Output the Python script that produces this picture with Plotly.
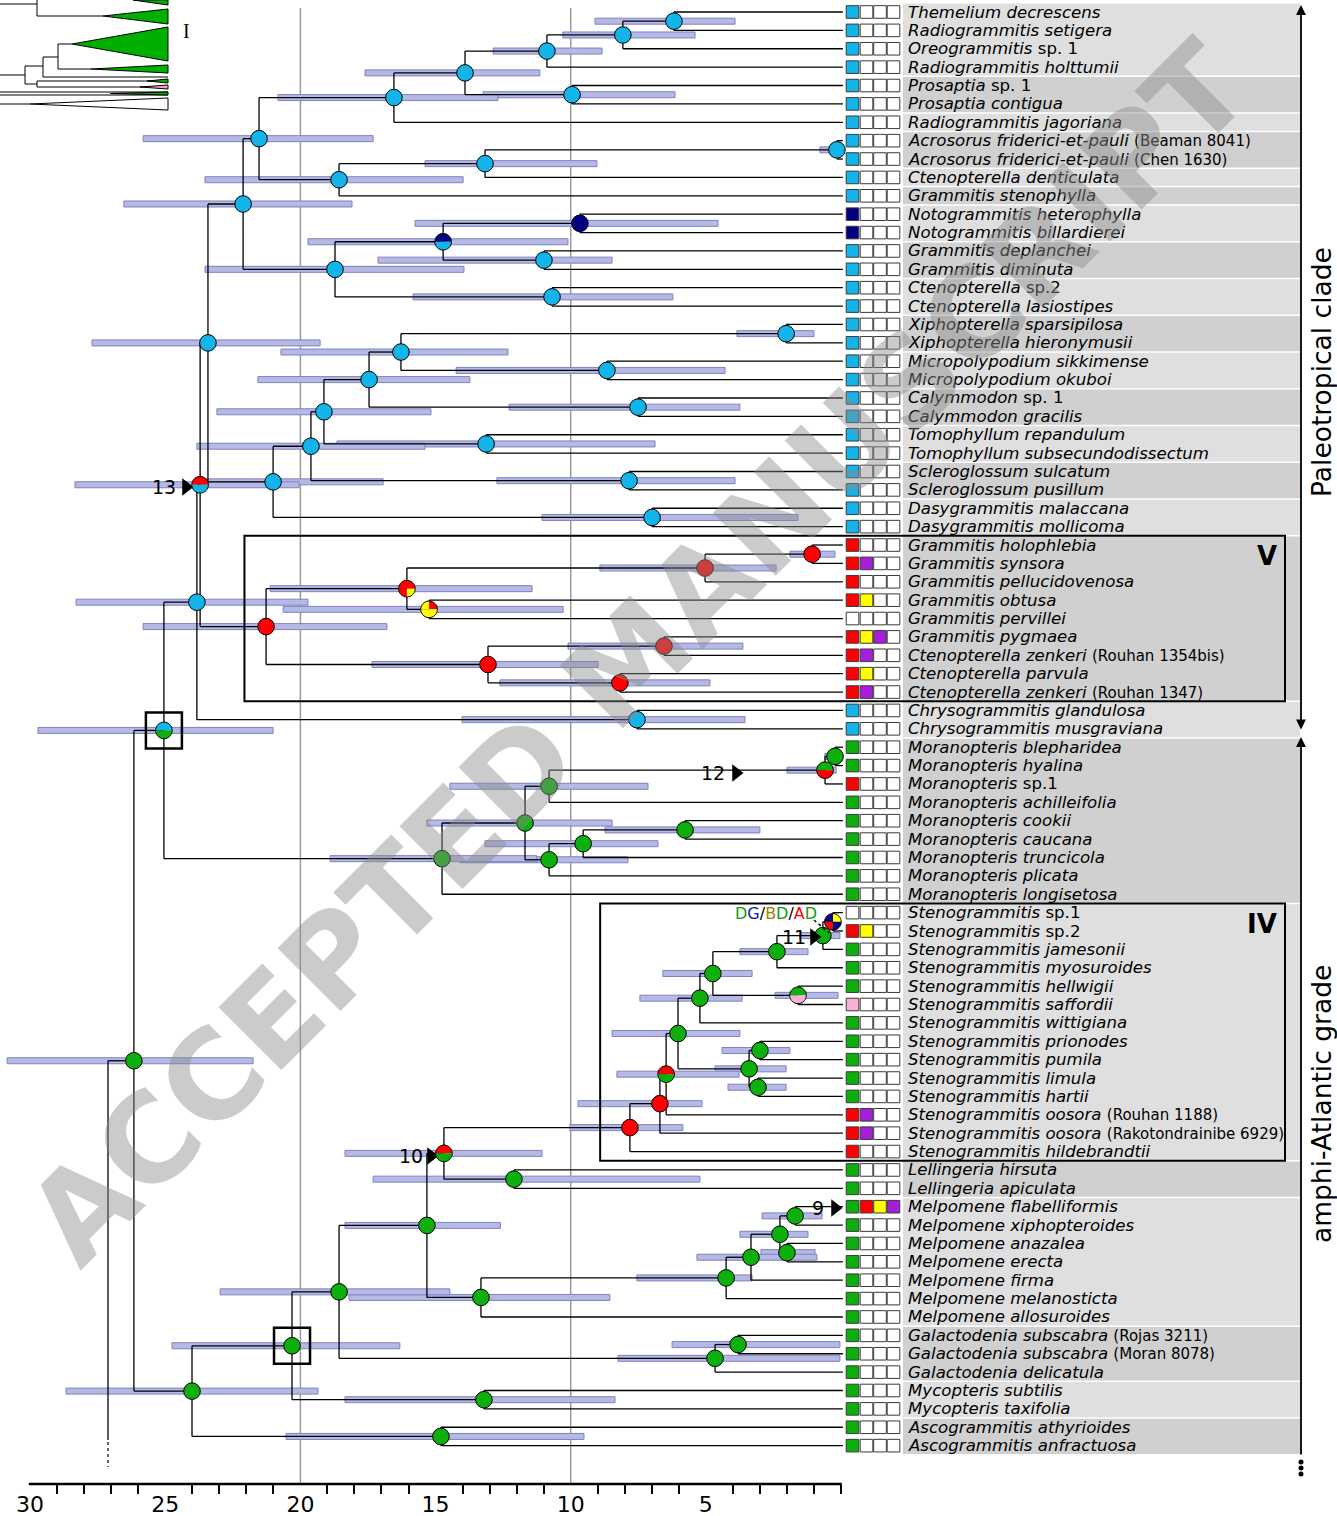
import math
import plotly.graph_objects as go

# ------------------------------------------------------------------ data
tip_labels = [
    "<i>Themelium decrescens</i>", "<i>Radiogrammitis setigera</i>", "<i>Oreogrammitis</i> sp. 1",
    "<i>Radiogrammitis holttumii</i>", "<i>Prosaptia</i> sp. 1", "<i>Prosaptia contigua</i>",
    "<i>Radiogrammitis jagoriana</i>",
    "<i>Acrosorus friderici-et-pauli</i> <span style='font-size:15px'>(Beaman 8041)</span>",
    "<i>Acrosorus friderici-et-pauli</i> <span style='font-size:15px'>(Chen 1630)</span>",
    "<i>Ctenopterella denticulata</i>", "<i>Grammitis stenophylla</i>",
    "<i>Notogrammitis heterophylla</i>", "<i>Notogrammitis billardierei</i>",
    "<i>Grammitis deplanchei</i>", "<i>Grammitis diminuta</i>", "<i>Ctenopterella</i> sp.2",
    "<i>Ctenopterella lasiostipes</i>", "<i>Xiphopterella sparsipilosa</i>",
    "<i>Xiphopterella hieronymusii</i>", "<i>Micropolypodium sikkimense</i>",
    "<i>Micropolypodium okuboi</i>", "<i>Calymmodon</i> sp. 1", "<i>Calymmodon gracilis</i>",
    "<i>Tomophyllum repandulum</i>", "<i>Tomophyllum subsecundodissectum</i>",
    "<i>Scleroglossum sulcatum</i>", "<i>Scleroglossum pusillum</i>",
    "<i>Dasygrammitis malaccana</i>", "<i>Dasygrammitis mollicoma</i>",
    "<i>Grammitis holophlebia</i>", "<i>Grammitis synsora</i>", "<i>Grammitis pellucidovenosa</i>",
    "<i>Grammitis obtusa</i>", "<i>Grammitis pervillei</i>", "<i>Grammitis pygmaea</i>",
    "<i>Ctenopterella zenkeri</i> <span style='font-size:15px'>(Rouhan 1354bis)</span>",
    "<i>Ctenopterella parvula</i>",
    "<i>Ctenopterella zenkeri</i> <span style='font-size:15px'>(Rouhan 1347)</span>",
    "<i>Chrysogrammitis glandulosa</i>", "<i>Chrysogrammitis musgraviana</i>",
    "<i>Moranopteris blepharidea</i>", "<i>Moranopteris hyalina</i>", "<i>Moranopteris</i> sp.1",
    "<i>Moranopteris achilleifolia</i>", "<i>Moranopteris cookii</i>", "<i>Moranopteris caucana</i>",
    "<i>Moranopteris truncicola</i>", "<i>Moranopteris plicata</i>", "<i>Moranopteris longisetosa</i>",
    "<i>Stenogrammitis</i> sp.1", "<i>Stenogrammitis</i> sp.2", "<i>Stenogrammitis jamesonii</i>",
    "<i>Stenogrammitis myosuroides</i>", "<i>Stenogrammitis hellwigii</i>",
    "<i>Stenogrammitis saffordii</i>", "<i>Stenogrammitis wittigiana</i>",
    "<i>Stenogrammitis prionodes</i>", "<i>Stenogrammitis pumila</i>", "<i>Stenogrammitis limula</i>",
    "<i>Stenogrammitis hartii</i>",
    "<i>Stenogrammitis oosora</i> <span style='font-size:15px'>(Rouhan 1188)</span>",
    "<i>Stenogrammitis oosora</i> <span style='font-size:15px'>(Rakotondrainibe 6929)</span>",
    "<i>Stenogrammitis hildebrandtii</i>", "<i>Lellingeria hirsuta</i>", "<i>Lellingeria apiculata</i>",
    "<i>Melpomene flabelliformis</i>", "<i>Melpomene xiphopteroides</i>", "<i>Melpomene anazalea</i>",
    "<i>Melpomene erecta</i>", "<i>Melpomene firma</i>", "<i>Melpomene melanosticta</i>",
    "<i>Melpomene allosuroides</i>",
    "<i>Galactodenia subscabra</i> <span style='font-size:15px'>(Rojas 3211)</span>",
    "<i>Galactodenia subscabra</i> <span style='font-size:15px'>(Moran 8078)</span>",
    "<i>Galactodenia delicatula</i>", "<i>Mycopteris subtilis</i>", "<i>Mycopteris taxifolia</i>",
    "<i>Ascogrammitis athyrioides</i>", "<i>Ascogrammitis anfractuosa</i>",
]

# distribution areas per tip (4 boxes): c cyan, n navy, r red, p purple, y yellow, g green, k pink, w white
tip_areas = (
    ["cwww"] * 11 + ["nwww"] * 2 + ["cwww"] * 16 +
    ["rwww", "rpww", "rwww", "ryww", "wwww", "rypw", "rpww", "ryww", "rpww"] +
    ["cwww"] * 2 + ["gwww", "gwww", "rwww"] + ["gwww"] * 6 +
    ["wwww", "ryww", "gwww", "gwww", "gwww", "kwww", "gwww", "gwww", "gwww", "gwww", "gwww",
     "rpww", "rpww", "rwww"] +
    ["gwww", "gwww", "gryp"] + ["gwww"] * 13
)

# alternating grey bands (first row, last row)
band_groups = [(1, 4), (5, 6), (7, 7), (8, 9), (10, 10), (11, 11), (12, 13), (14, 15), (16, 17),
               (18, 19), (20, 21), (22, 23), (24, 25), (26, 27), (28, 29), (30, 38), (39, 40),
               (41, 49), (50, 63), (64, 65), (66, 72), (73, 75), (76, 77), (78, 79)]

# internal nodes: id, children, age (Ma), 95% HPD min/max, ancestral state colours
node_ids = ["A", "B", "C", "D", "E", "F", "G", "H", "I", "J", "K", "M", "L", "N", "O", "P",
            "Q", "S", "R", "U", "T", "W", "V", "Y", "X", "DA", "Z", "AA",
            "V1", "V2", "V4", "V3", "V6", "V7", "V5", "VR", "N13", "CH", "AB",
            "Mo1", "N12", "Mo3", "Mo4", "Mo5", "Mo6", "Mo7", "MoR", "PM",
            "St11", "St1", "St2", "St3", "St4", "St5", "St6", "St7", "St8", "St9", "St10",
            "St12", "SR", "Le", "N10", "N9", "Me2", "Me1", "Me3", "Me4", "MeR", "L427",
            "Ga1", "GaR", "X339", "My", "X292", "As", "X192", "ROOT"]
node_children = [[1, 2], ["A", 3], ["B", 4], [5, 6], ["C", "D"], ["E", 7], [8, 9], ["G", 10],
                 ["H", 11], ["F", "I"], [12, 13], [14, 15], ["K", "M"], [16, 17], ["L", "N"],
                 ["J", "O"], [18, 19], [20, 21], ["Q", "S"], [22, 23], ["R", "U"], [24, 25],
                 ["T", "W"], [26, 27], ["V", "Y"], [28, 29], ["X", "DA"], ["P", "Z"],
                 [30, 31], ["V1", 32], [33, 34], ["V2", "V4"], [35, 36], [37, 38], ["V6", "V7"],
                 ["V3", "V5"], ["AA", "VR"], [39, 40], ["N13", "CH"],
                 [41, 42], ["Mo1", 43], ["N12", 44], [45, 46], ["Mo4", 47], ["Mo5", 48],
                 ["Mo3", "Mo6"], ["Mo7", 49], ["AB", "MoR"],
                 [50, 51], ["St11", 52], ["St1", 53], [54, 55], ["St2", "St3"], ["St4", 56],
                 [57, 58], [59, 60], ["St6", "St7"], ["St5", "St8"], ["St9", 61], ["St10", 62],
                 ["St12", 63], [64, 65], ["SR", "Le"], [66, 67], [68, 69], ["N9", "Me2"],
                 ["Me1", 70], ["Me3", 71], ["Me4", 72], ["N10", "MeR"], [73, 74], ["Ga1", 75],
                 ["L427", "GaR"], [76, 77], ["X339", "My"], [78, 79], ["X292", "As"],
                 ["PM", "X192"]]
node_ages = [6.18, 8.07, 10.88, 9.95, 13.91, 16.54, 0.15, 13.17, 18.57, 21.53, 9.66, 10.99,
             14.72, 10.69, 18.72, 22.12, 2.03, 8.66, 16.28, 7.51, 17.46, 13.13, 19.13, 7.84,
             19.61, 6.99, 21.01, 23.42,
             1.07, 5.03, 15.24, 16.06, 6.55, 8.18, 13.06, 21.27, 23.71, 7.55, 23.83,
             0.22, 0.59, 10.80, 5.77, 9.54, 10.80, 11.69, 14.76, 25.05,
             0.30, 0.67, 2.37, 1.59, 4.74, 5.22, 3.00, 3.07, 3.40, 6.03, 6.47,
             6.70, 7.81, 12.10, 14.69, 1.70, 2.00, 2.26, 3.33, 4.25, 13.32, 15.32,
             3.81, 4.66, 18.57, 13.21, 20.31, 14.80, 24.01, 26.16]
node_hpd_min = [3.92, 5.40, 8.84, 6.14, 11.14, 12.69, 0.00, 9.03, 13.98, 17.31, 4.55, 8.47,
                10.10, 6.22, 13.95, 18.09, 1.00, 4.29, 12.32, 3.74, 13.73, 6.88, 15.17, 3.92,
                15.39, 1.59, 16.94, 19.27,
                0.22, 2.40, 10.28, 11.43, 3.63, 4.85, 8.99, 16.80, 20.05, 3.55, 19.72,
                0.00, 0.18, 7.14, 3.00, 6.77, 7.88, 8.47, 11.25, 21.01,
                0.00, 0.04, 1.22, 0.11, 3.29, 3.66, 1.89, 2.03, 2.03, 3.74, 3.77,
                5.14, 5.85, 5.22, 11.06, 0.70, 0.96, 1.22, 0.89, 3.29, 8.55, 12.60,
                0.04, 0.04, 14.47, 8.36, 16.32, 9.51, 19.35, 21.75]
node_hpd_max = [9.10, 10.29, 12.87, 13.24, 17.61, 20.83, 0.78, 15.39, 23.53, 25.82, 15.76, 17.13,
                19.72, 15.83, 23.53, 26.53, 3.85, 14.24, 20.72, 12.28, 21.57, 18.65, 23.09, 12.73,
                23.83, 11.06, 23.75, 27.71,
                1.89, 8.92, 20.64, 21.12, 10.10, 12.62, 17.35, 25.82, 28.34, 14.02, 28.30,
                0.60, 2.00, 14.47, 8.73, 13.17, 14.10, 15.32, 18.90, 29.71,
                0.00, 1.52, 3.74, 2.44, 6.59, 7.44, 4.40, 4.18, 4.66, 8.47, 8.29,
                9.73, 10.03, 17.31, 18.35, 2.92, 2.96, 3.74, 5.33, 7.55, 18.20, 18.35,
                6.25, 8.25, 22.97, 18.35, 24.75, 20.53, 28.67, 30.85]
# state: one colour, [top, bottom] halves, or quarters [TR, TL, BL, BR]
node_states = (["c"] * 10 + ["n", "c", ["n", "c"], "c", "c", "c"] + ["c"] * 12 +
               ["r", "r", ["r", "y", "y", "y"], ["r", "r", "r", "y"], "r", "r", "r", "r",
                ["r", "c"], "c", "c"] +
               ["g", ["g", "r"], "g", "g", "g", "g", "g", "g", ["c", "g"]] +
               [["y", "n", "r", "n"], "g", "g", ["g", "k"], "g", "g", "g", "g", "g", "g",
                ["r", "g"], "r", "r", "g", ["r", "g"], "g", "g", "g", "g", "g", "g", "g",
                "g", "g", "g", "g", "g", "g", "g", "g"])
boxed_nodes = ["PM", "X292"]
node_number_labels = ["13", "12", "11", "10", "9"]

x_tick_vals = [30, 25, 20, 15, 10, 5]
x_minor_vals = [v for v in range(30, -1, -1) if v % 5 != 0 or v == 0]

COL = {"c": "#12b4ea", "n": "#000080", "r": "#ff0000", "y": "#ffff00", "p": "#a61ed8",
       "g": "#0caf0c", "k": "#f7b2d3", "w": "#ffffff"}

# ------------------------------------------------------------------ geometry helpers
S = 27.03      # px per Ma
X0 = 841.0     # px of present (0 Ma)
RH = 18.38     # px per row
Y0 = 12.0      # px of first row
W, H = 1337, 1516


def ax(px):
    return (X0 - px) / S


def ay(py):
    return 1 + (py - Y0) / RH


nodes = {nid: dict(ch=ch, age=a, lo=lo, hi=hi, st=st) for nid, ch, a, lo, hi, st in
         zip(node_ids, node_children, node_ages, node_hpd_min, node_hpd_max, node_states)}
ypos = {}


def gety(c):
    if isinstance(c, int):
        return float(c)
    if c not in ypos:
        ys = [gety(k) for k in nodes[c]["ch"]]
        ypos[c] = (min(ys) + max(ys)) / 2
    return ypos[c]


def getx(c):
    return -0.07 if isinstance(c, int) else nodes[c]["age"]


for n in node_ids:
    gety(n)

shapes = []
annotations = []
traces = []

# grey label bands
for k, (a, b) in enumerate(band_groups):
    shapes.append(dict(type="rect", xref="x", yref="y", layer="below",
                       x0=ax(903), x1=ax(1300), y0=a - 0.5 + 0.04, y1=b + 0.5 - 0.04,
                       fillcolor="#dfdfdf" if k % 2 == 0 else "#d0d0d0", line=dict(width=0)))

# vertical time gridlines
for g in (20, 10):
    shapes.append(dict(type="line", xref="x", yref="y", layer="below", x0=g, x1=g,
                       y0=ay(8), y1=ay(1484), line=dict(color="#9a9a9a", width=1.5)))

# HPD bars
hh = 3.0 / RH
for n in node_ids:
    d = nodes[n]
    if d["hi"] - d["lo"] <= 0:
        continue
    y = ypos[n]
    shapes.append(dict(type="rect", xref="x", yref="y", layer="below",
                       x0=d["hi"], x1=max(d["lo"], -0.05), y0=y - hh, y1=y + hh,
                       fillcolor="#b5b9e4", line=dict(color="#7e83bf", width=1)))

# branches
bx, by = [], []
for n in node_ids:
    d = nodes[n]
    ys = [gety(c) for c in d["ch"]]
    bx += [d["age"], d["age"], None]
    by += [min(ys), max(ys), None]
    for c in d["ch"]:
        bx += [d["age"], getx(c), None]
        by += [gety(c), gety(c), None]
# root stem
root = nodes["ROOT"]
stem_x = ax(108)
bx += [stem_x, root["age"], None, stem_x, stem_x, None]
by += [ypos["ROOT"], ypos["ROOT"], None, ypos["ROOT"], ay(1440), None]
traces.append(go.Scatter(x=bx, y=by, mode="lines", line=dict(color="black", width=1.3),
                         hoverinfo="skip"))
traces.append(go.Scatter(x=[stem_x, stem_x], y=[ay(1442), ay(1467)], mode="lines",
                         line=dict(color="black", width=1.2, dash="dot"), hoverinfo="skip"))

# node circles
R = 8.3
rx, ry = R / S, R / RH


def pt(cx, cy, th):
    return cx - rx * math.cos(th), cy - ry * math.sin(th)


def sector(cx, cy, a0, a1, n=20):
    p = ["M%.4f,%.4f" % (cx, cy)]
    for i in range(n + 1):
        th = math.radians(a0 + (a1 - a0) * i / n)
        x, y = pt(cx, cy, th)
        p.append("L%.4f,%.4f" % (x, y))
    p.append("Z")
    return " ".join(p)


def circle(cx, cy, n=48):
    p = []
    for i in range(n):
        th = 2 * math.pi * i / n
        x, y = pt(cx, cy, th)
        p.append(("M" if i == 0 else "L") + "%.4f,%.4f" % (x, y))
    p.append("Z")
    return " ".join(p)


single_x, single_y, single_c = [], [], []
for n in node_ids:
    d = nodes[n]
    st = d["st"]
    cx, cy = d["age"], ypos[n]
    if isinstance(st, str):
        single_x.append(cx)
        single_y.append(cy)
        single_c.append(COL[st])
    else:
        k = len(st)
        step = 360.0 / k
        for i, c in enumerate(st):
            shapes.append(dict(type="path", xref="x", yref="y", layer="above",
                               path=sector(cx, cy, i * step, (i + 1) * step),
                               fillcolor=COL[c], line=dict(width=0)))
        shapes.append(dict(type="path", xref="x", yref="y", layer="above",
                           path=circle(cx, cy), line=dict(color="black", width=1)))
traces.append(go.Scatter(x=single_x, y=single_y, mode="markers",
                         marker=dict(size=16.6, color=single_c, line=dict(color="black", width=1)),
                         hoverinfo="skip"))

# boxes around two nodes
for n in boxed_nodes:
    cx, cy = nodes[n]["age"], ypos[n]
    shapes.append(dict(type="rect", xref="x", yref="y", layer="above",
                       x0=cx + 18 / S, x1=cx - 18 / S, y0=cy - 18 / RH, y1=cy + 18 / RH,
                       line=dict(color="black", width=2.5)))

# clade frames V and IV
for root_id, r0, r1, lab, pad in (("VR", 30, 38, "V", 0.8), ("SR", 50, 63, "IV", 1.1)):
    shapes.append(dict(type="rect", xref="x", yref="y", layer="above",
                       x0=nodes[root_id]["age"] + pad, x1=ax(1285), y0=r0 - 0.5, y1=r1 + 0.5,
                       line=dict(color="black", width=2)))
    annotations.append(dict(x=ax(1279), y=r0 + 0.6, xref="x", yref="y", text="<b>%s</b>" % lab,
                            showarrow=False, xanchor="right", yanchor="middle",
                            font=dict(size=26, family="DejaVu Sans", color="black")))

# tip area boxes
box_cx = [ax(852.5), ax(866.5), ax(880.0), ax(893.5)]
tx, ty, tc = [], [], []
for i, code in enumerate(tip_areas):
    for j, ch in enumerate(code):
        tx.append(box_cx[j])
        ty.append(i + 1)
        tc.append(COL[ch])
traces.append(go.Scatter(x=tx, y=ty, mode="markers",
                         marker=dict(symbol="square", size=12.6, color=tc,
                                     line=dict(color="#3a3a3a", width=1)),
                         hoverinfo="skip"))

# tip labels
for i, lab in enumerate(tip_labels):
    annotations.append(dict(x=ax(906), y=i + 1, xref="x", yref="y", text=lab, showarrow=False,
                            xanchor="left", yanchor="middle",
                            font=dict(size=16.6, family="DejaVu Sans", color="black")))

# node number labels with triangles (pixel placements)
lab_pos = {"13": (164, 186, 487), "12": (713, 736, 773), "11": (794, 814, 937),
           "10": (411, 431, 1156), "9": (818, 835, 1208)}
trx, try_ = [], []
for lab in node_number_labels:
    tpx, tri_px, ypx = lab_pos[lab]
    annotations.append(dict(x=ax(tpx), y=ay(ypx), xref="x", yref="y", text=lab, showarrow=False,
                            xanchor="center", yanchor="middle",
                            font=dict(size=19, family="DejaVu Sans", color="black")))
    trx.append(ax(tri_px))
    try_.append(ay(ypx))
traces.append(go.Scatter(x=trx, y=try_, mode="markers",
                         marker=dict(symbol="triangle-right", size=15, color="black"),
                         hoverinfo="skip"))

# DG/BD/AD legend near node 11
annotations.append(dict(
    x=ax(776), y=ay(913), xref="x", yref="y", showarrow=False, xanchor="center", yanchor="middle",
    text="<span style='color:#129a12'>D</span><span style='color:#1a1a9a'>G</span>/"
         "<span style='color:#9c8600'>B</span><span style='color:#129a12'>D</span>/"
         "<span style='color:#ff0000'>A</span><span style='color:#129a12'>D</span>",
    font=dict(size=16, family="DejaVu Sans", color="black")))
shapes.append(dict(type="line", xref="x", yref="y", layer="above", x0=ax(814), y0=ay(920),
                   x1=ax(829), y1=ay(933), line=dict(color="black", width=1.5, dash="dot")))

# right-hand clade arrows and labels
xr = ax(1301)
annotations.append(dict(x=xr, y=ay(5), ax=xr, ay=ay(731), xref="x", yref="y", axref="x",
                        ayref="y", text="", showarrow=True, arrowhead=2, arrowside="end+start",
                        arrowsize=1.1, arrowwidth=1.8, arrowcolor="black"))
annotations.append(dict(x=xr, y=ay(737), ax=xr, ay=ay(1456), xref="x", yref="y", axref="x",
                        ayref="y", text="", showarrow=True, arrowhead=2, arrowside="end",
                        arrowsize=1.1, arrowwidth=1.8, arrowcolor="black"))
traces.append(go.Scatter(x=[xr] * 3, y=[ay(1462), ay(1468), ay(1474)], mode="markers",
                         marker=dict(size=5, color="black"), hoverinfo="skip"))
annotations.append(dict(x=ax(1321), y=ay(372), xref="x", yref="y", text="Paleotropical clade",
                        textangle=-90, showarrow=False,
                        font=dict(size=26.5, family="DejaVu Sans", color="black")))
annotations.append(dict(x=ax(1321), y=ay(1104), xref="x", yref="y", text="amphi-Atlantic grade",
                        textangle=-90, showarrow=False,
                        font=dict(size=26.5, family="DejaVu Sans", color="black")))

# partial inset tree (top-left corner, cut off from another panel)
inset_lines = [((0, 4), (37, 4)), ((37, 0), (37, 16)), ((37, 16), (103, 16)),
               ((58, 44), (72, 44)), ((58, 44), (58, 69)), ((58, 69), (91, 69)),
               ((43, 57), (58, 57)), ((43, 57), (43, 77)), ((43, 77), (168, 77)),
               ((25, 66), (43, 66)), ((0, 75), (25, 75)), ((25, 66), (25, 84)),
               ((25, 84), (37, 84)), ((37, 81), (37, 87)), ((37, 81), (168, 81)),
               ((37, 87), (168, 87)), ((0, 92), (168, 92)), ((0, 95), (168, 95)),
               ((0, 104), (30, 104))]
inset_tris = [([(103, 16), (168, 9), (168, 24)], "#00b000"),
              ([(133, 0), (168, 5), (168, 0)], "#00b000"),
              ([(72, 44), (168, 27), (168, 61)], "#00b000"),
              ([(91, 69), (168, 65), (168, 73)], "#00b000"),
              ([(147, 81), (168, 79), (168, 83)], "#00b000"),
              ([(140, 87), (168, 85), (168, 89)], "#f4a6c8"),
              ([(110, 93.5), (168, 92), (168, 95)], "#00b000"),
              ([(30, 104), (168, 98), (168, 110)], "#ffffff")]
for (p0, p1) in inset_lines:
    shapes.append(dict(type="line", xref="x", yref="y", layer="above", x0=ax(p0[0]), y0=ay(p0[1]),
                       x1=ax(p1[0]), y1=ay(p1[1]), line=dict(color="black", width=1)))
for pts, col in inset_tris:
    path = "M" + " L".join("%.4f,%.4f" % (ax(a), ay(b)) for a, b in pts) + " Z"
    shapes.append(dict(type="path", xref="x", yref="y", layer="above", path=path,
                       fillcolor=col, line=dict(color="black", width=1)))
annotations.append(dict(x=ax(186), y=ay(31), xref="x", yref="y", text="I", showarrow=False,
                        font=dict(size=20, family="Liberation Serif", color="black")))

# time axis baseline
shapes.append(dict(type="line", xref="x", yref="y", layer="above", x0=30.05, x1=-0.03,
                   y0=ay(1484), y1=ay(1484), line=dict(color="black", width=2.5)))

# watermark
annotations.append(dict(x=ax(638), y=ay(654), xref="x", yref="y", text="<b>ACCEPTED MANUSCRIPT</b>",
                        textangle=-45, showarrow=False,
                        font=dict(size=122, family="DejaVu Sans", color="rgba(140,140,140,0.45)")))

fig = go.Figure(traces)
fig.update_layout(
    width=W, height=H, margin=dict(l=0, r=0, t=0, b=0, pad=0, autoexpand=False),
    plot_bgcolor="white", paper_bgcolor="white", showlegend=False,
    shapes=shapes, annotations=annotations,
    xaxis=dict(range=[ax(0), ax(W)], anchor="free", position=1 - 1484 / H, automargin=False,
               showline=False, showgrid=False, zeroline=False,
               tickmode="array", tickvals=x_tick_vals, ticktext=[str(v) for v in x_tick_vals],
               ticks="", ticklabelstandoff=5,
               tickfont=dict(size=22, family="DejaVu Sans", color="black"),
               minor=dict(tickmode="array", tickvals=x_minor_vals, ticks="outside", ticklen=9,
                          tickwidth=2, tickcolor="black")),
    yaxis=dict(range=[ay(H), ay(0)], visible=False, showgrid=False, zeroline=False,
               automargin=False),
)
fig.write_html("out.html", config={"displayModeBar": False},
               post_script="document.body.style.margin='0';document.body.style.overflow='hidden';")
